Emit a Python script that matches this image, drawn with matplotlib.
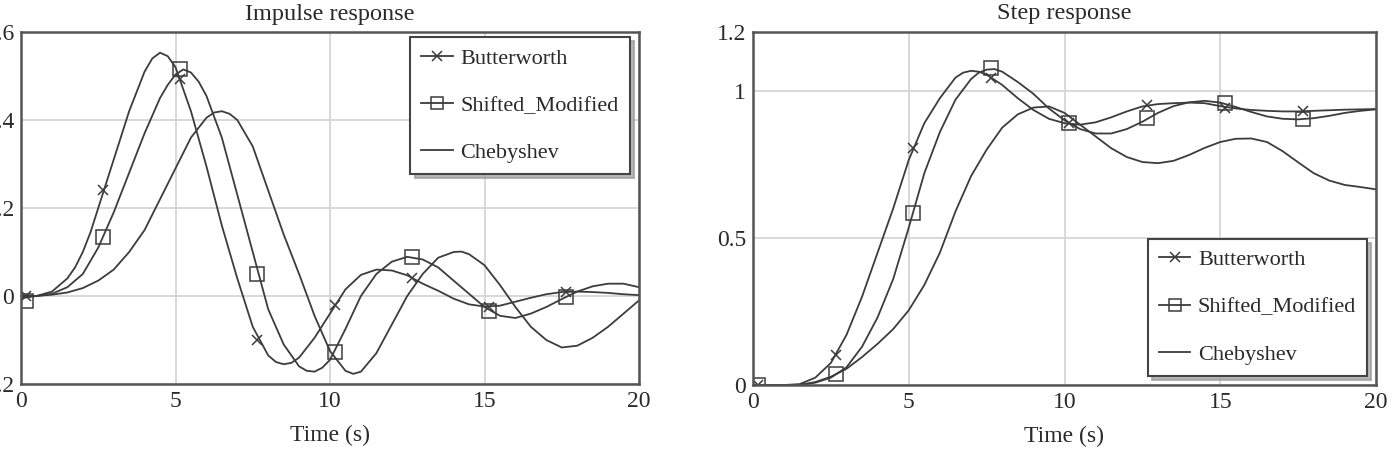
import matplotlib
matplotlib.use("Agg")
import matplotlib.pyplot as plt
from matplotlib.lines import Line2D

plt.rcParams['font.family'] = ['Liberation Serif', 'DejaVu Serif']

# ---------------- data ----------------
imp_butter_t = [0, 0.5, 1, 1.5, 1.75, 2, 2.25, 2.5, 3, 3.5, 4, 4.25, 4.5, 4.75, 5, 5.5, 6,
                6.5, 7, 7.5, 8, 8.25, 8.5, 8.75, 9, 9.5, 10, 10.5, 11, 11.5, 12, 12.5, 13,
                13.5, 14, 14.5, 15, 15.5, 16, 16.5, 17, 17.5, 18, 18.5, 19, 19.5, 20]
imp_butter = [0, 0, 0.01, 0.04, 0.065, 0.10, 0.145, 0.20, 0.31, 0.42, 0.51, 0.54, 0.553,
              0.545, 0.52, 0.42, 0.295, 0.16, 0.04, -0.07, -0.135, -0.15, -0.155, -0.152,
              -0.14, -0.095, -0.04, 0.015, 0.048, 0.06, 0.058, 0.047, 0.028, 0.012, -0.006,
              -0.019, -0.024, -0.022, -0.013, -0.004, 0.004, 0.009, 0.01, 0.009, 0.007,
              0.004, 0.002]

imp_shifted_t = [0, 0.5, 1, 1.5, 2, 2.5, 3, 3.5, 4, 4.5, 4.75, 5, 5.25, 5.5, 5.75, 6, 6.5,
                 7, 7.5, 8, 8.5, 9, 9.25, 9.5, 9.75, 10, 10.5, 11, 11.5, 12, 12.5, 13, 13.5,
                 14, 14.5, 15, 15.5, 16, 16.5, 17, 17.5, 18, 18.5, 19, 19.5, 20]
imp_shifted = [-0.005, 0.0, 0.005, 0.02, 0.05, 0.11, 0.19, 0.28, 0.37, 0.45, 0.48, 0.503,
               0.515, 0.508, 0.487, 0.455, 0.36, 0.23, 0.10, -0.03, -0.11, -0.16, -0.17,
               -0.172, -0.163, -0.145, -0.075, 0.0, 0.05, 0.078, 0.089, 0.083, 0.065, 0.035,
               0.005, -0.025, -0.045, -0.05, -0.04, -0.025, -0.007, 0.01, 0.022, 0.028,
               0.028, 0.02]

imp_cheby_t = [0, 0.5, 1, 1.5, 2, 2.5, 3, 3.5, 4, 4.5, 5, 5.5, 6, 6.25, 6.5, 6.75, 7, 7.5,
               8, 8.5, 9, 9.5, 10, 10.5, 10.75, 11, 11.5, 12, 12.5, 13, 13.5, 14, 14.25,
               14.5, 15, 15.5, 16, 16.5, 17, 17.5, 18, 18.5, 19, 19.5, 20]
imp_cheby = [0, 0, 0.003, 0.008, 0.018, 0.035, 0.06, 0.1, 0.15, 0.22, 0.29, 0.36, 0.405,
             0.417, 0.42, 0.414, 0.40, 0.34, 0.24, 0.14, 0.05, -0.045, -0.125, -0.17,
             -0.177, -0.172, -0.13, -0.065, 0.0, 0.05, 0.087, 0.10, 0.101, 0.095, 0.07,
             0.025, -0.025, -0.07, -0.10, -0.117, -0.113, -0.095, -0.07, -0.04, -0.01]

step_butter_t = [0, 0.5, 1, 1.5, 2, 2.5, 3, 3.5, 4, 4.5, 5, 5.5, 6, 6.5, 6.75, 7, 7.25,
                 7.5, 8, 8.5, 9, 9.5, 10, 10.5, 11, 11.5, 12, 12.5, 13, 13.5, 14, 14.5, 15,
                 15.5, 16, 16.5, 17, 17.5, 18, 18.5, 19, 19.5, 20]
step_butter = [0, 0, 0, 0.003, 0.025, 0.075, 0.17, 0.30, 0.45, 0.60, 0.765, 0.89, 0.975,
               1.045, 1.062, 1.068, 1.065, 1.055, 1.02, 0.975, 0.935, 0.905, 0.89, 0.885,
               0.893, 0.91, 0.93, 0.947, 0.955, 0.958, 0.96, 0.958, 0.948, 0.94, 0.935,
               0.932, 0.93, 0.93, 0.932, 0.934, 0.936, 0.937, 0.938]

step_shifted_t = [0, 0.5, 1, 1.5, 2, 2.5, 3, 3.5, 4, 4.5, 5, 5.5, 6, 6.5, 7, 7.25, 7.5,
                  7.75, 8, 8.5, 9, 9.5, 10, 10.5, 11, 11.5, 12, 12.5, 13, 13.5, 14, 14.5,
                  15, 15.5, 16, 16.5, 17, 17.5, 18, 18.5, 19, 19.5, 20]
step_shifted = [0, 0, 0, 0, 0.008, 0.025, 0.06, 0.13, 0.23, 0.36, 0.535, 0.72, 0.86, 0.97,
                1.04, 1.062, 1.072, 1.074, 1.065, 1.03, 0.99, 0.94, 0.9, 0.87, 0.855, 0.855,
                0.87, 0.895, 0.925, 0.948, 0.961, 0.966, 0.96, 0.945, 0.928, 0.913, 0.905,
                0.903, 0.907, 0.915, 0.925, 0.932, 0.937]

step_cheby_t = [0, 0.5, 1, 1.5, 2, 2.5, 3, 3.5, 4, 4.5, 5, 5.5, 6, 6.5, 7, 7.5, 8, 8.5, 9,
                9.5, 10, 10.5, 11, 11.5, 12, 12.5, 13, 13.5, 14, 14.5, 15, 15.5, 16, 16.5,
                17, 17.5, 18, 18.5, 19, 19.5, 20]
step_cheby = [0, 0, 0, 0, 0.01, 0.028, 0.055, 0.095, 0.14, 0.19, 0.254, 0.34, 0.45, 0.59,
              0.71, 0.80, 0.875, 0.92, 0.943, 0.947, 0.925, 0.885, 0.845, 0.805, 0.775,
              0.758, 0.754, 0.762, 0.782, 0.806, 0.826, 0.837, 0.838, 0.826, 0.795, 0.757,
              0.72, 0.695, 0.68, 0.673, 0.665]

mark_t = [0.15, 2.65, 5.15, 7.65, 10.15, 12.65, 15.15, 17.65]
imp_butter_mk = [0.0, 0.24, 0.494, -0.099, -0.02, 0.04, -0.024, 0.01]
imp_shifted_mk = [-0.012, 0.135, 0.515, 0.05, -0.127, 0.089, -0.035, -0.002]
step_butter_mk = [0.0, 0.101, 0.804, 1.042, 0.889, 0.951, 0.943, 0.932]
step_shifted_mk = [0.0, 0.036, 0.585, 1.076, 0.889, 0.909, 0.959, 0.903]

labels = ["Butterworth", "Shifted_Modified", "Chebyshev"]
xticks = [0, 5, 10, 15, 20]
imp_yticks = [-0.2, 0, 0.2, 0.4, 0.6]
imp_yticklabels = ["-0.2", "0", "0.2", "0.4", "0.6"]
step_yticks = [0, 0.5, 1, 1.2]
step_yticklabels = ["0", "0.5", "1", "1.2"]

# ---------------- styling ----------------
LC = '#3c3c3c'
TC = '#2a2a2a'
W, H = 1392, 461
fig = plt.figure(figsize=(W / 100, H / 100), dpi=100)

def px_axes(x0, x1, ytop, ybot):
    return fig.add_axes([x0 / W, 1 - ybot / H, (x1 - x0) / W, (ybot - ytop) / H])

ax1 = px_axes(21, 639, 32, 384)
ax2 = px_axes(753, 1376, 32, 385)

def style(ax, title, yticks, ylabels, ylim):
    ax.set_xlim(0, 20)
    ax.set_ylim(*ylim)
    ax.set_xticks(xticks)
    ax.set_xticklabels([str(v) for v in xticks])
    ax.set_yticks(yticks)
    ax.set_yticklabels(ylabels)
    ax.grid(True, color='#d6d6d6', lw=1.3)
    ax.set_axisbelow(True)
    for s in ax.spines.values():
        s.set_color('#555555')
        s.set_linewidth(1.8)
    ax.tick_params(length=0, labelsize=17, colors=TC, pad=5)
    ax.set_title(title, fontsize=17.5, color=TC, pad=9)
    ax.set_xlabel("Time (s)", fontsize=17, color=TC, labelpad=9)

def draw(ax, series, mb, ms):
    for tt, yy in series:
        ax.plot(tt, yy, color=LC, lw=1.3)
    ax.plot(mark_t, mb, ls='none', marker='x', ms=7, mew=1.1, color=LC)
    ax.plot(mark_t, ms, ls='none', marker='s', ms=10, mew=1.1, mfc='none', mec=LC)

draw(ax1, [(imp_butter_t, imp_butter), (imp_shifted_t, imp_shifted),
           (imp_cheby_t, imp_cheby)], imp_butter_mk, imp_shifted_mk)
draw(ax2, [(step_butter_t, step_butter), (step_shifted_t, step_shifted),
           (step_cheby_t, step_cheby)], step_butter_mk, step_shifted_mk)
style(ax1, "Impulse response", imp_yticks, imp_yticklabels, (-0.2, 0.6))
style(ax2, "Step response", step_yticks, step_yticklabels, (0, 1.2))

handles = [Line2D([], [], color=LC, lw=1.3, marker='x', ms=7, mew=1.1),
           Line2D([], [], color=LC, lw=1.3, marker='s', ms=8, mew=1.1, mfc='none'),
           Line2D([], [], color=LC, lw=1.3)]

def legend(ax, loc, anchor):
    lg = ax.legend(handles, labels, loc=loc, bbox_to_anchor=anchor, fontsize=16,
                   frameon=True, fancybox=False, framealpha=1,
                   shadow={'ox': 3, 'oy': -3, 'color': '#999999', 'alpha': 0.7},
                   edgecolor='#444444', borderpad=0.5, labelspacing=1.2,
                   handlelength=1.4, handletextpad=0.35, borderaxespad=0)
    lg.get_frame().set_linewidth(1.5)
    for txt in lg.get_texts():
        txt.set_color(TC)
    return lg

legend(ax1, 'upper right', (0.985, 0.986))
legend(ax2, 'lower right', (0.986, 0.026))

fig.savefig("out.png", dpi=100)
